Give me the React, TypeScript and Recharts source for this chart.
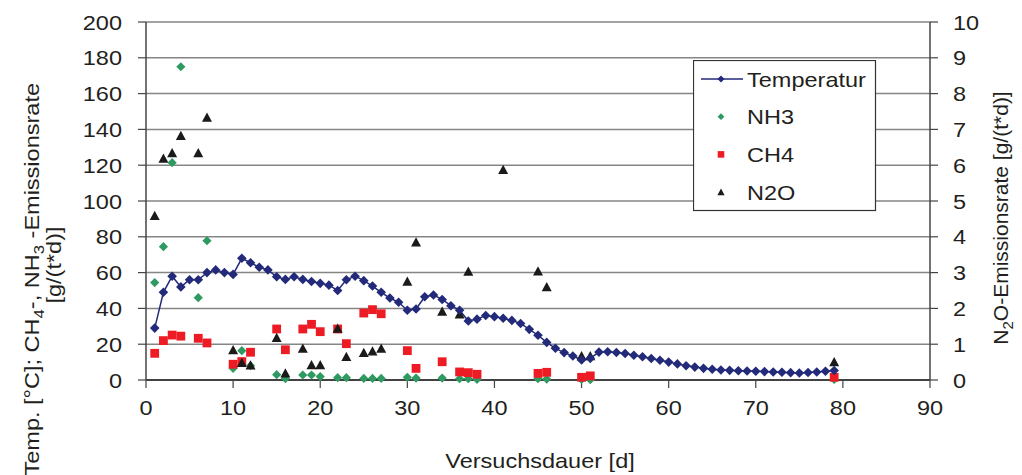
import {
  ComposedChart,
  Line,
  Scatter,
  XAxis,
  YAxis,
  CartesianGrid,
  Legend,
} from "recharts";

const tempDays = [
  1, 2, 3, 4, 5, 6, 7, 8, 9, 10, 11, 12, 13, 14, 15, 16, 17, 18, 19, 20,
  21, 22, 23, 24, 25, 26, 27, 28, 29, 30, 31, 32, 33, 34, 35, 36, 37, 38, 39, 40,
  41, 42, 43, 44, 45, 46, 47, 48, 49, 50, 51, 52, 53, 54, 55, 56, 57, 58, 59, 60,
  61, 62, 63, 64, 65, 66, 67, 68, 69, 70, 71, 72, 73, 74, 75, 76, 77, 78, 79,
];
const tempValues = [
  29, 49, 58, 52, 56, 56, 60, 61.5, 60, 59, 68, 65.5, 63, 61.5, 57.7, 56.2, 57.7, 56.2, 55, 54,
  53, 50, 56, 58, 55.5, 52.5, 49, 45.8, 43.4, 39, 39.7, 46.5, 47.5, 45, 41.5, 39, 33, 34, 36, 35.4,
  34.5, 33.3, 31.6, 28.3, 25, 21, 17.7, 15.3, 13.4, 11.2, 12.1, 15.6, 15.8, 15.4, 14.8, 13.8, 13, 12, 11, 10,
  9, 8, 7.2, 6.5, 6, 5.6, 5.4, 5.2, 5, 4.9, 4.7, 4.5, 4.3, 4.1, 3.9, 4.2, 4.5, 4.9, 5.3,
];

// Messtage der Gasproben
const sampleDays = [
  1, 2, 3, 4, 6, 7, 10, 11, 12, 15, 16, 18, 19, 20, 22, 23, 25, 26, 27, 30,
  31, 34, 36, 37, 38, 45, 46, 50, 51, 79,
];
const nh3Values = [
  54.4, 74.5, 121.4, 175, 46, 77.8, 6.5, 16.4, 8, 3, 0.8, 2.8, 2.8, 1.9, 1.3, 1.3, 0.9, 0.9, 0.9, 1.5,
  1.1, 1.1, 0.7, 0.7, 0.4, 0.7, 0.5, 0.3, 0.2, 0.3,
];
const ch4Values = [
  14.9, 22, 25.1, 24.5, 23.3, 20.7, 8.8, 10.3, 15.5, 28.5, 16.9, 28.5, 31.1, 27, 28.5, 20.3, 37.4, 39.3, 37, 16.4,
  6.5, 10.2, 4.5, 4.1, 3.2, 3.7, 4.3, 1.5, 2.3, 1.5,
];
const n2oDays = [
  1, 2, 3, 4, 6, 7, 10, 11, 12, 15, 16, 18, 19, 20, 22, 23, 25, 26, 27, 30,
  31, 34, 36, 37, 41, 45, 46, 50, 51, 79,
];
const n2oValues = [
  4.59, 6.19, 6.34, 6.82, 6.34, 7.33, 0.84, 0.48, 0.41, 1.18, 0.19, 0.88, 0.42, 0.42, 1.44, 0.65, 0.76, 0.8, 0.88, 2.75,
  3.85, 1.91, 1.84, 3.03, 5.87, 3.04, 2.6, 0.67, 0.67, 0.5,
];

const xTicks = [0, 10, 20, 30, 40, 50, 60, 70, 80, 90];
const leftTicks = [0, 20, 40, 60, 80, 100, 120, 140, 160, 180, 200];
const rightTicks = [0, 1, 2, 3, 4, 5, 6, 7, 8, 9, 10];

const tempData = tempDays.map((day, i) => ({ day, v: tempValues[i] }));
const nh3Data = sampleDays.map((day, i) => ({ day, v: nh3Values[i] }));
const ch4Data = sampleDays.map((day, i) => ({ day, v: ch4Values[i] }));
const n2oData = n2oDays.map((day, i) => ({ day, v: n2oValues[i] }));

const NAVY = "#232a7a";
const GREEN = "#2e9a62";
const RED = "#ed1c24";
const BLACK = "#1a1a1a";
const TEXT = "#231f20";
const FONT = '"Liberation Sans", Arial, sans-serif';
const SX = 1.12;

function SText({ x, y, anchor = "start", rotate = false, size = 21, sx = SX, children }: any) {
  const t = rotate
    ? `translate(${x},${y}) rotate(-90) scale(${sx},1)`
    : `translate(${x},${y}) scale(${sx},1)`;
  return (
    <text transform={t} textAnchor={anchor} fontFamily={FONT} fontSize={size} fill={TEXT}>
      {children}
    </text>
  );
}

const diamond = (cx: number, cy: number, r: number, fill: string) => (
  <path d={`M${cx},${cy - r}L${cx + r},${cy}L${cx},${cy + r}L${cx - r},${cy}Z`} fill={fill} />
);
const square = (cx: number, cy: number, r: number, fill: string) => (
  <rect x={cx - r} y={cy - r} width={2 * r} height={2 * r} fill={fill} />
);
const triangle = (cx: number, cy: number, r: number, fill: string) => (
  <path d={`M${cx},${cy - r}L${cx + r},${cy + r * 0.85}L${cx - r},${cy + r * 0.85}Z`} fill={fill} />
);

const TempDot = (p: any) => <g key={p.index}>{diamond(p.cx, p.cy, 4.8, NAVY)}</g>;
const Nh3Shape = (p: any) => diamond(p.cx, p.cy, 4.6, GREEN);
const Ch4Shape = (p: any) => square(p.cx, p.cy, 4.4, RED);
const N2oShape = (p: any) => triangle(p.cx, p.cy, 5, BLACK);

const BottomTick = (p: any) => (
  <SText x={p.x} y={p.y + 25} anchor="middle">{p.payload.value}</SText>
);
const LeftTick = (p: any) => (
  <SText x={p.x - 14} y={p.y + 7.5} anchor="end">{p.payload.value}</SText>
);
const RightTick = (p: any) => (
  <SText x={p.x + 13} y={p.y + 7.5} anchor="start">{p.payload.value}</SText>
);

const LeftTitle = () => (
  <g>
    <SText x={39} y={83} anchor="end" rotate>
      Temp. [°C]; CH<tspan dy={5} fontSize={15}>4</tspan>
      <tspan dy={-5}>-, NH</tspan>
      <tspan dy={5} fontSize={15}>3</tspan>
      <tspan dy={-5}> -Emissionsrate</tspan>
    </SText>
    <SText x={61} y={265} anchor="middle" rotate>
      [g/(t*d)]
    </SText>
  </g>
);

const RightTitle = () => (
  <SText x={1008} y={218} anchor="middle" rotate sx={1}>
    N<tspan dy={5} fontSize={15}>2</tspan>
    <tspan dy={-5}>O-Emissionsrate [g/(t*d)]</tspan>
  </SText>
);

const BottomTitle = () => (
  <SText x={540} y={468} anchor="middle">
    Versuchsdauer [d]
  </SText>
);

const legendRows = [
  { name: "Temperatur", kind: "line" },
  { name: "NH3", kind: "nh3" },
  { name: "CH4", kind: "ch4" },
  { name: "N2O", kind: "n2o" },
];

const LegendBox = () => (
  <svg width={184} height={152}>
    <rect x={0.5} y={0.5} width={182} height={150} fill="#fff" stroke="#333" strokeWidth={1.2} />
    {legendRows.map((row, i) => {
      const cy = 19 + i * 37.7;
      return (
        <g key={row.name}>
          {row.kind === "line" && (
            <>
              <line x1={8} x2={50} y1={cy} y2={cy} stroke={NAVY} strokeWidth={1.5} />
              {diamond(28, cy, 3.5, NAVY)}
            </>
          )}
          {row.kind === "nh3" && diamond(28, cy, 3.4, GREEN)}
          {row.kind === "ch4" && square(28, cy, 3.3, RED)}
          {row.kind === "n2o" && triangle(28, cy, 3.6, BLACK)}
          <SText x={54} y={cy + 7.5}>{row.name}</SText>
        </g>
      );
    })}
  </svg>
);

export default function App() {
  return (
    <div style={{ position: "absolute", left: 0, top: 0, background: "#fff" }}>
      <ComposedChart
        width={1022}
        height={475}
        margin={{ top: 22, right: 0, bottom: 65, left: 0 }}
      >
        <CartesianGrid vertical={false} stroke="#858585" strokeWidth={1.5} yAxisId="left" />
        <XAxis
          type="number"
          dataKey="day"
          domain={[0, 90]}
          ticks={xTicks}
          height={30}
          tick={<BottomTick />}
          tickSize={8}
          axisLine={{ stroke: "#222", strokeWidth: 1.5 }}
          tickLine={{ stroke: "#444", strokeWidth: 1.2 }}
          label={<BottomTitle />}
        />
        <YAxis
          yAxisId="left"
          domain={[0, 200]}
          ticks={leftTicks}
          width={146}
          tick={<LeftTick />}
          tickSize={8}
          axisLine={{ stroke: "#444", strokeWidth: 1.5 }}
          tickLine={{ stroke: "#444", strokeWidth: 1.2 }}
          label={<LeftTitle />}
        />
        <YAxis
          yAxisId="right"
          orientation="right"
          domain={[0, 10]}
          ticks={rightTicks}
          width={92}
          tick={<RightTick />}
          tickSize={8}
          axisLine={{ stroke: "#444", strokeWidth: 1.5 }}
          tickLine={{ stroke: "#444", strokeWidth: 1.2 }}
          label={<RightTitle />}
        />
        <Legend
          layout="vertical"
          align="center"
          verticalAlign="middle"
          content={() => <LegendBox />}
          wrapperStyle={{ position: "absolute", left: 693, top: 60, width: 184, height: 152 }}
        />
        <Line
          yAxisId="left"
          data={tempData}
          dataKey="v"
          name="Temperatur"
          stroke={NAVY}
          strokeWidth={1.5}
          dot={TempDot}
          activeDot={false}
          isAnimationActive={false}
        />
        <Scatter yAxisId="left" data={nh3Data} dataKey="v" name="NH3" shape={Nh3Shape} isAnimationActive={false} />
        <Scatter yAxisId="left" data={ch4Data} dataKey="v" name="CH4" shape={Ch4Shape} isAnimationActive={false} />
        <Scatter yAxisId="right" data={n2oData} dataKey="v" name="N2O" shape={N2oShape} isAnimationActive={false} />
      </ComposedChart>
    </div>
  );
}
